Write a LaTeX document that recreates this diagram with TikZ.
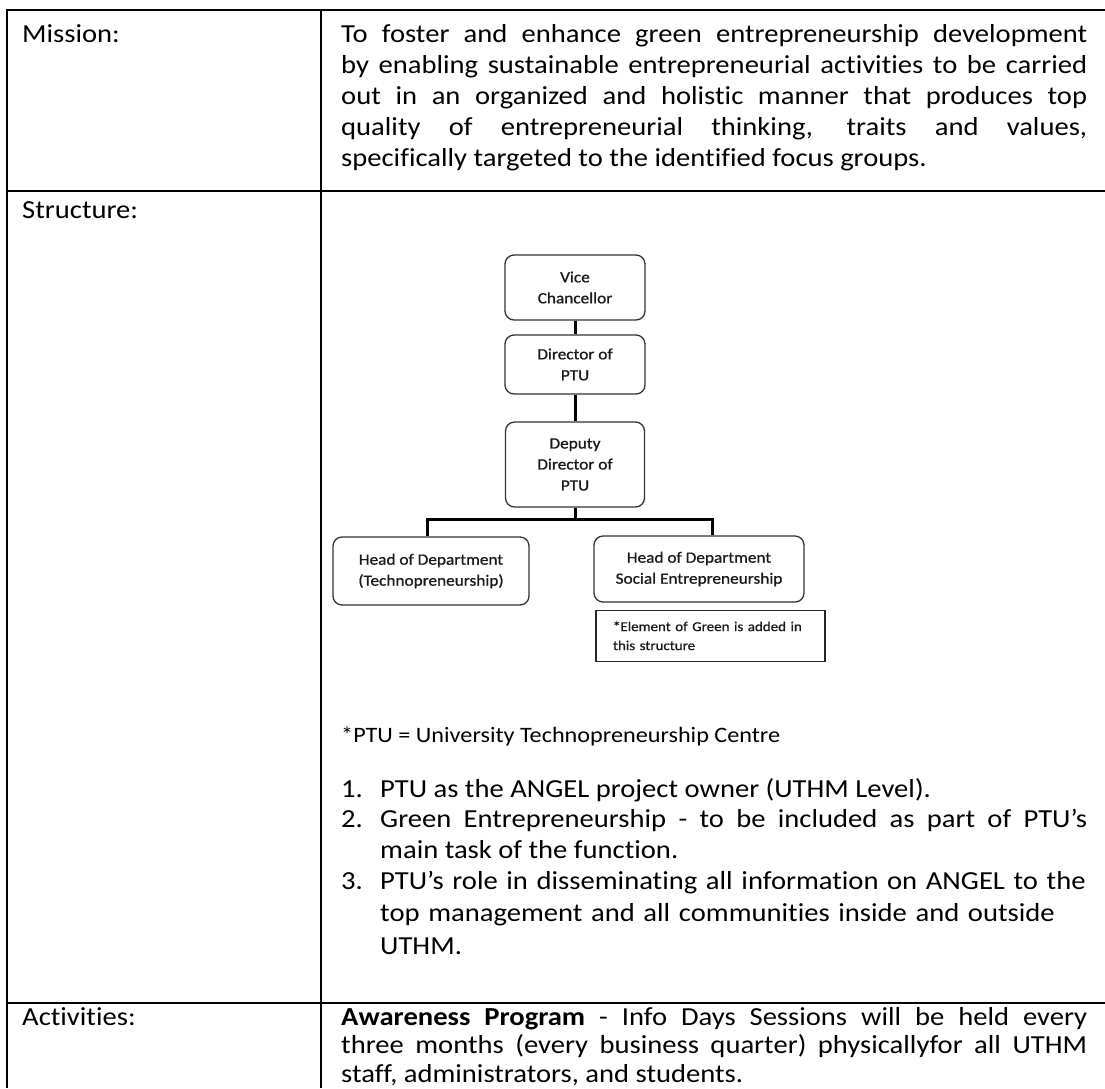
\documentclass[tikz,border=0pt]{standalone}
\usepackage{fontspec}
\setmainfont{Carlito}[FakeStretch=1.1, Ligatures=NoCommon]
\newfontfamily\chartfont{Carlito}[FakeStretch=1.1, FakeBold=0.8, Ligatures=NoCommon]
\usetikzlibrary{positioning}
\tikzset{
  rule/.style={line width=2pt},
  body/.style={font=\fontsize{26}{31}\selectfont, inner sep=0pt},
  just/.style={body, text width=746pt, align=justify},
  unit/.style={draw=black!80, line width=1.3pt, rounded corners=9pt, align=center,
    inner sep=0pt, text=black!90, font=\chartfont\fontsize{15.7}{21}\selectfont},
  note/.style={draw=black!85, line width=1.3pt, align=left, inner xsep=17pt, inner ysep=0pt,
    text width=195pt, minimum height=51pt, text=black!90, font=\chartfont\fontsize{13.6}{19}\selectfont},
  link/.style={line width=3pt}
}
\begin{document}
\begin{tikzpicture}[x=1pt,y=-1pt]
\useasboundingbox (0,0) rectangle (1105,1088);
\fill[white] (0,0) rectangle (1105,1088);
% table
\draw[rule] (1105,10) -- (7,10) -- (7,1088);
\draw[rule] (321,10) -- (321,1088);
\draw[rule] (7,191) -- (1105,191);
\draw[rule] (7,1003) -- (1105,1003);
% left column
\node[body, anchor=base west] (lmis) at (22,42) {Mission:};
\node[body, anchor=base west] (lstr) at (22,218) {Structure:};
\node[body, anchor=base west] (lact) at (22,1025) {Activities:};
% mission
\node[just, anchor=base west] (mission) at (341,42) {To foster and enhance green entrepreneurship development\linebreak
  by enabling sustainable entrepreneurial activities to be carried\linebreak
  out in an organized and holistic manner that produces top\linebreak
  quality of entrepreneurial thinking, traits and values,\linebreak
  specifically targeted to the identified focus groups.};
% structure chart
\node[unit, minimum width=140pt, minimum height=65pt] (vc) at (575,287.5) {Vice\\Chancellor};
\node[unit, minimum width=140pt, minimum height=59pt] (dir) at (575,364.5) {Director of\\PTU};
\node[unit, minimum width=139pt, minimum height=85pt] (dep) at (575,464.5) {Deputy\\Director of\\PTU};
\node[unit, minimum width=196pt, minimum height=68pt] (tech) at (431,571) {Head of Department\\(Technopreneurship)};
\node[unit, minimum width=210pt, minimum height=66pt] (soc) at (699,569) {Head of Department\\Social Entrepreneurship};
\node[note, below right=7pt and 2pt of soc.south west] (green) {*Element of Green is added in\\this structure};
\coordinate (bus) at (575,519);
\draw[link] (vc) -- (dir);
\draw[link] (dir) -- (dep);
\draw[link] (dep) -- (bus);
\draw[link] ([xshift=-4pt]tech.north) |- (bus) -| ([xshift=13pt]soc.north);
\node[body, font=\fontsize{22}{26}\selectfont, anchor=base west] (ptu) at (341,742) {*PTU = University Technopreneurship Centre};
% list
\node[body, anchor=base west] (n1) at (341,797) {1.};
\node[body, anchor=base west] (i1) at (380,797) {PTU as the ANGEL project owner (UTHM Level).};
\node[body, anchor=base west] (n2) at (341,827) {2.};
\node[just, text width=707pt, font=\fontsize{26}{31}\selectfont, anchor=base west] (i2) at (380,827) {Green Entrepreneurship - to be included as part of PTU’s\linebreak
  main task of the function.};
\node[body, anchor=base west] (n3) at (341,889) {3.};
\node[body, text width=707pt, align=left, font=\fontsize{26}{32.5}\selectfont, anchor=base west] (i3) at (380,889) {PTU’s role in disseminating all information on ANGEL to the\\
  top management and all communities inside and outside\\
  UTHM.};
% activities
\node[just, font=\fontsize{26}{28.5}\selectfont, anchor=base west] (act) at (341,1025) {\textbf{Awareness Program} - Info Days Sessions will be held every\linebreak
  three months (every business quarter) physicallyfor all UTHM\linebreak
  staff, administrators, and students.};
\end{tikzpicture}
\end{document}
